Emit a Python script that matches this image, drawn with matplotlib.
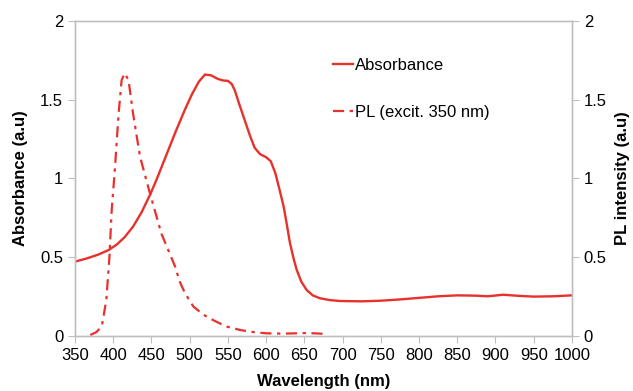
import matplotlib.pyplot as plt

plt.rcParams['font.family'] = ['Liberation Sans', 'DejaVu Sans']

# Absorbance spectrum
abs_wl = [350, 365, 380, 394, 405, 415, 426, 437, 448, 456, 463, 472, 481,
          494, 503, 512, 520, 528, 537, 544, 550, 555, 559, 565, 572, 579,
          585, 592, 600, 606, 612, 618, 623, 627, 631, 636, 640, 646, 653,
          661, 670, 683, 697, 725, 750, 775, 800, 825, 850, 875, 890, 910,
          930, 950, 975, 1000]
abs_val = [0.472, 0.492, 0.516, 0.546, 0.582, 0.628, 0.695, 0.785, 0.895,
           0.985, 1.07, 1.18, 1.29, 1.44, 1.535, 1.615, 1.66, 1.655, 1.632,
           1.622, 1.62, 1.60, 1.56, 1.47, 1.37, 1.27, 1.195, 1.155, 1.135,
           1.11, 1.035, 0.92, 0.82, 0.71, 0.595, 0.49, 0.42, 0.345, 0.292,
           0.258, 0.24, 0.228, 0.222, 0.22, 0.224, 0.232, 0.242, 0.252, 0.258,
           0.256, 0.252, 0.262, 0.255, 0.25, 0.252, 0.258]

# PL emission spectrum (excitation 350 nm)
pl_wl = [370, 378, 385, 391, 395, 398, 402, 407, 411, 415, 420, 426, 435,
         448, 463, 481, 487, 494, 505, 518, 531, 548, 566, 583, 600, 622,
         640, 653, 667, 679]
pl_val = [0.006, 0.025, 0.06, 0.23, 0.50, 0.80, 1.05, 1.41, 1.625, 1.668,
          1.625, 1.41, 1.14, 0.906, 0.65, 0.44, 0.345, 0.27, 0.186, 0.135,
          0.10, 0.06, 0.038, 0.025, 0.017, 0.015, 0.017, 0.019, 0.016, 0.013]

red = '#E8302C'
grey = '#BFBFBF'

fig = plt.figure(figsize=(6.33, 3.91), dpi=100)
ax = fig.add_axes([0.1185, 0.1407, 0.785, 0.8056])
ax2 = ax.twinx()

la, = ax.plot(abs_wl, abs_val, color=red, lw=1.7, label='Absorbance',
              solid_joinstyle='round')
lp, = ax2.plot(pl_wl, pl_val, color=red, lw=1.6, dashes=(5, 2.5, 1.5, 2.5),
               label='PL (excit. 350 nm)')

ax.set_xlim(350, 1000)
ax.set_ylim(0, 2)
ax2.set_ylim(0, 2)
ax.set_xticks(range(350, 1001, 50))
yt = [0, 0.5, 1, 1.5, 2]
ylab = ['0', '0.5', '1', '1.5', '2']
ax.set_yticks(yt)
ax.set_yticklabels(ylab)
ax2.set_yticks(yt)
ax2.set_yticklabels(ylab)

for a in (ax, ax2):
    for s in a.spines.values():
        s.set_color(grey)
        s.set_linewidth(1.0)
    a.tick_params(colors=grey, labelcolor='black', labelsize=12, length=5,
                  direction='out')

ax.set_xlabel('Wavelength (nm)', fontsize=12, fontweight='bold', labelpad=8)
ax.set_ylabel('Absorbance (a.u)', fontsize=12, fontweight='bold', labelpad=9)
ax2.set_ylabel('PL intensity (a.u)', fontsize=12, fontweight='bold',
               rotation=90, labelpad=6)

leg = ax.legend(handles=[la, lp], loc='upper left',
                bbox_to_anchor=(0.488, 0.93), frameon=False, fontsize=12,
                handlelength=1.2, handletextpad=0.15, labelspacing=1.9)

fig.savefig('out.png', dpi=100)
